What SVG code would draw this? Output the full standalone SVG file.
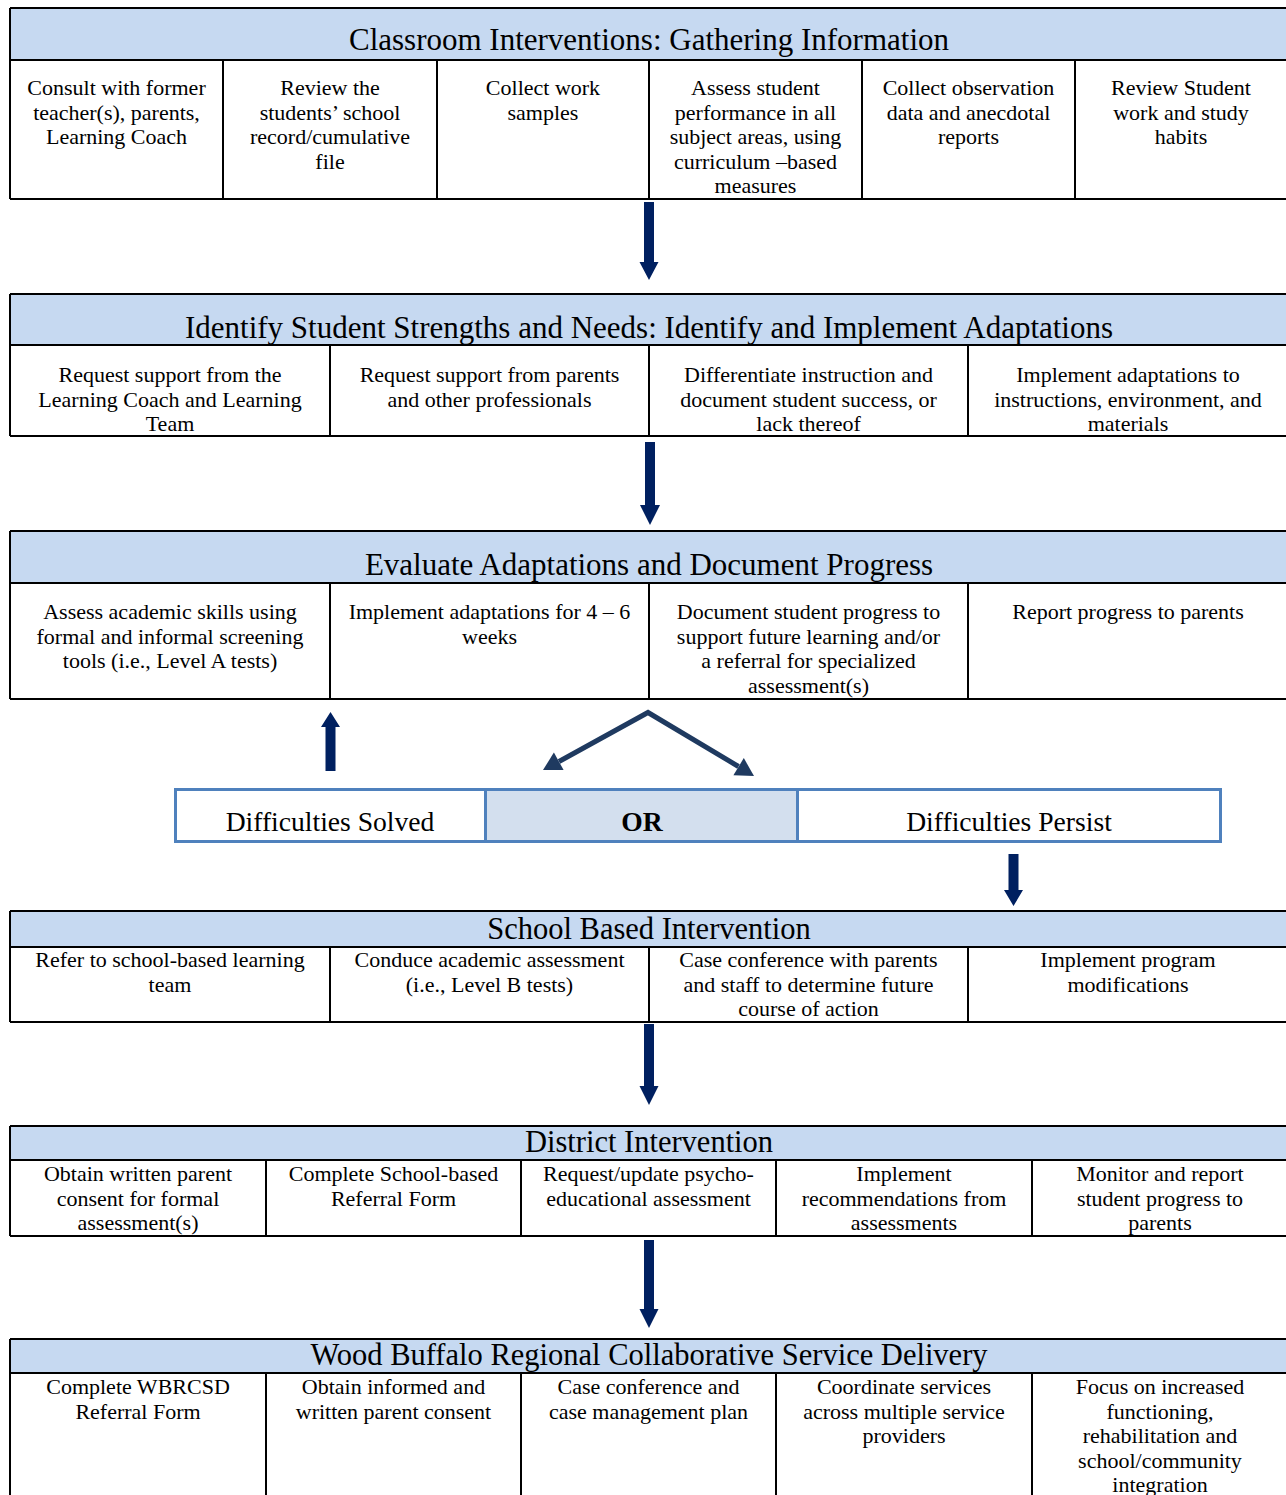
<svg xmlns="http://www.w3.org/2000/svg" width="1286" height="1495" viewBox="0 0 1286 1495">
<style>
.hd{fill:#C6D9F1;stroke:none}
.ln{stroke:#000;stroke-width:2;fill:none}
.ht{font-family:"Liberation Serif",serif;font-size:31px;fill:#000;text-anchor:middle}
.hs{font-family:"Liberation Serif",serif;font-size:30.5px;fill:#000;text-anchor:middle}
.ct{font-family:"Liberation Serif",serif;font-size:22px;fill:#000;text-anchor:middle}
.ob{fill:#fff;stroke:#4F81BD;stroke-width:3}
.orb{fill:#D3DFEE;stroke:#4F81BD;stroke-width:3}
.ot{font-family:"Liberation Serif",serif;font-size:27.6px;fill:#000;text-anchor:middle}
.ar{fill:#002060}
.dg{stroke:#1F3A60;stroke-width:5;fill:none}
.dh{fill:#1F3A60}
</style>

<g id="t1">
<rect class="hd" x="10" y="8" width="1278" height="52"/>
<path class="ln" d="M10,8 H1288 M10,60 H1288 M10,199 H1288 M10,8 V199 M223,60 V199 M437,60 V199 M649,60 V199 M862,60 V199 M1075,60 V199"/>
<text class="ht" x="649" y="50">Classroom Interventions: Gathering Information</text>
<text class="ct" x="116.5" y="95">Consult with former<tspan x="116.5" dy="24.5">teacher(s), parents,</tspan><tspan x="116.5" dy="24.5">Learning Coach</tspan></text>
<text class="ct" x="330" y="95">Review the<tspan x="330" dy="24.5">students’ school</tspan><tspan x="330" dy="24.5">record/cumulative</tspan><tspan x="330" dy="24.5">file</tspan></text>
<text class="ct" x="543" y="95">Collect work<tspan x="543" dy="24.5">samples</tspan></text>
<text class="ct" x="755.5" y="95">Assess student<tspan x="755.5" dy="24.5">performance in all</tspan><tspan x="755.5" dy="24.5">subject areas, using</tspan><tspan x="755.5" dy="24.5">curriculum –based</tspan><tspan x="755.5" dy="24.5">measures</tspan></text>
<text class="ct" x="968.5" y="95">Collect observation<tspan x="968.5" dy="24.5">data and anecdotal</tspan><tspan x="968.5" dy="24.5">reports</tspan></text>
<text class="ct" x="1181" y="95">Review Student<tspan x="1181" dy="24.5">work and study</tspan><tspan x="1181" dy="24.5">habits</tspan></text>
</g>

<g id="t2">
<rect class="hd" x="10" y="294" width="1278" height="50"/>
<path class="ln" d="M10,294 H1288 M10,345 H1288 M10,436 H1288 M10,294 V436 M330,345 V436 M649,345 V436 M968,345 V436"/>
<text class="ht" x="649" y="338">Identify Student Strengths and Needs: Identify and Implement Adaptations</text>
<text class="ct" x="170" y="382">Request support from the<tspan x="170" dy="24.5">Learning Coach and Learning</tspan><tspan x="170" dy="24.5">Team</tspan></text>
<text class="ct" x="489.5" y="382">Request support from parents<tspan x="489.5" dy="24.5">and other professionals</tspan></text>
<text class="ct" x="808.5" y="382">Differentiate instruction and<tspan x="808.5" dy="24.5">document student success, or</tspan><tspan x="808.5" dy="24.5">lack thereof</tspan></text>
<text class="ct" x="1128" y="382">Implement adaptations to<tspan x="1128" dy="24.5">instructions, environment, and</tspan><tspan x="1128" dy="24.5">materials</tspan></text>
</g>

<g id="t3">
<rect class="hd" x="10" y="531" width="1278" height="52"/>
<path class="ln" d="M10,531 H1288 M10,583 H1288 M10,699 H1288 M10,531 V699 M330,583 V699 M649,583 V699 M968,583 V699"/>
<text class="ht" x="649" y="575">Evaluate Adaptations and Document Progress</text>
<text class="ct" x="170" y="619">Assess academic skills using<tspan x="170" dy="24.5">formal and informal screening</tspan><tspan x="170" dy="24.5">tools (i.e., Level A tests)</tspan></text>
<text class="ct" x="489.5" y="619">Implement adaptations for 4 – 6<tspan x="489.5" dy="24.5">weeks</tspan></text>
<text class="ct" x="808.5" y="619">Document student progress to<tspan x="808.5" dy="24.5">support future learning and/or</tspan><tspan x="808.5" dy="24.5">a referral for specialized</tspan><tspan x="808.5" dy="24.5">assessment(s)</tspan></text>
<text class="ct" x="1128" y="619">Report progress to parents</text>
</g>

<g id="or">
<rect class="ob" x="175.5" y="789.5" width="310" height="52"/>
<rect class="orb" x="485.5" y="789.5" width="312" height="52"/>
<rect class="ob" x="797.5" y="789.5" width="423" height="52"/>
<text class="ot" x="330" y="831">Difficulties Solved</text>
<text class="ot" x="642" y="831" font-weight="bold">OR</text>
<text class="ot" x="1009" y="831">Difficulties Persist</text>
</g>

<g id="t4">
<rect class="hd" x="10" y="911" width="1278" height="36"/>
<path class="ln" d="M10,911 H1288 M10,947 H1288 M10,1022 H1288 M10,911 V1022 M330,947 V1022 M649,947 V1022 M968,947 V1022"/>
<text class="hs" x="649" y="939">School Based Intervention</text>
<text class="ct" x="170" y="967">Refer to school-based learning<tspan x="170" dy="24.5">team</tspan></text>
<text class="ct" x="489.5" y="967">Conduce academic assessment<tspan x="489.5" dy="24.5">(i.e., Level B tests)</tspan></text>
<text class="ct" x="808.5" y="967">Case conference with parents<tspan x="808.5" dy="24.5">and staff to determine future</tspan><tspan x="808.5" dy="24.5">course of action</tspan></text>
<text class="ct" x="1128" y="967">Implement program<tspan x="1128" dy="24.5">modifications</tspan></text>
</g>

<g id="t5">
<rect class="hd" x="10" y="1126" width="1278" height="34"/>
<path class="ln" d="M10,1126 H1288 M10,1160 H1288 M10,1236 H1288 M10,1126 V1236 M266,1160 V1236 M521,1160 V1236 M776,1160 V1236 M1032,1160 V1236"/>
<text class="hs" x="649" y="1152">District Intervention</text>
<text class="ct" x="138" y="1181">Obtain written parent<tspan x="138" dy="24.5">consent for formal</tspan><tspan x="138" dy="24.5">assessment(s)</tspan></text>
<text class="ct" x="393.5" y="1181">Complete School-based<tspan x="393.5" dy="24.5">Referral Form</tspan></text>
<text class="ct" x="648.5" y="1181">Request/update psycho-<tspan x="648.5" dy="24.5">educational assessment</tspan></text>
<text class="ct" x="904" y="1181">Implement<tspan x="904" dy="24.5">recommendations from</tspan><tspan x="904" dy="24.5">assessments</tspan></text>
<text class="ct" x="1160" y="1181">Monitor and report<tspan x="1160" dy="24.5">student progress to</tspan><tspan x="1160" dy="24.5">parents</tspan></text>
</g>

<g id="t6">
<rect class="hd" x="10" y="1339" width="1278" height="34"/>
<path class="ln" d="M10,1339 H1288 M10,1373 H1288 M10,1339 V1496 M266,1373 V1496 M521,1373 V1496 M776,1373 V1496 M1032,1373 V1496"/>
<text class="hs" x="649" y="1365">Wood Buffalo Regional Collaborative Service Delivery</text>
<text class="ct" x="138" y="1394">Complete WBRCSD<tspan x="138" dy="24.5">Referral Form</tspan></text>
<text class="ct" x="393.5" y="1394">Obtain informed and<tspan x="393.5" dy="24.5">written parent consent</tspan></text>
<text class="ct" x="648.5" y="1394">Case conference and<tspan x="648.5" dy="24.5">case management plan</tspan></text>
<text class="ct" x="904" y="1394">Coordinate services<tspan x="904" dy="24.5">across multiple service</tspan><tspan x="904" dy="24.5">providers</tspan></text>
<text class="ct" x="1160" y="1394">Focus on increased<tspan x="1160" dy="24.5">functioning,</tspan><tspan x="1160" dy="24.5">rehabilitation and</tspan><tspan x="1160" dy="24.5">school/community</tspan><tspan x="1160" dy="24.5">integration</tspan></text>
</g>

<g id="connectors">
<path class="ar" d="M644,202 H654 V262 H658.5 L649,280 L639.5,262 H644 Z"/>
<path class="ar" d="M645,442 H655 V505 H660 L650,525 L640,505 H645 Z"/>
<path class="ar" d="M325.5,771 H335.5 V727 H340 L330.5,712 L321,727 H325.5 Z"/>
<path class="dg" d="M559,761.5 L648,712.5 L738.5,766.5" stroke-linejoin="miter"/>
<polygon class="dh" points="543,770 563.6,770 553.9,752.5"/>
<polygon class="dh" points="754,776 733.4,775.3 743.8,758.1"/>
<path class="ar" d="M1008.5,854 H1018.5 V890 H1023 L1013.5,906 L1004,890 H1008.5 Z"/>
<path class="ar" d="M644,1024 H654 V1086 H658.5 L649,1105 L639.5,1086 H644 Z"/>
<path class="ar" d="M644,1240 H654 V1309 H658.5 L649,1328 L639.5,1309 H644 Z"/>
</g>
</svg>
